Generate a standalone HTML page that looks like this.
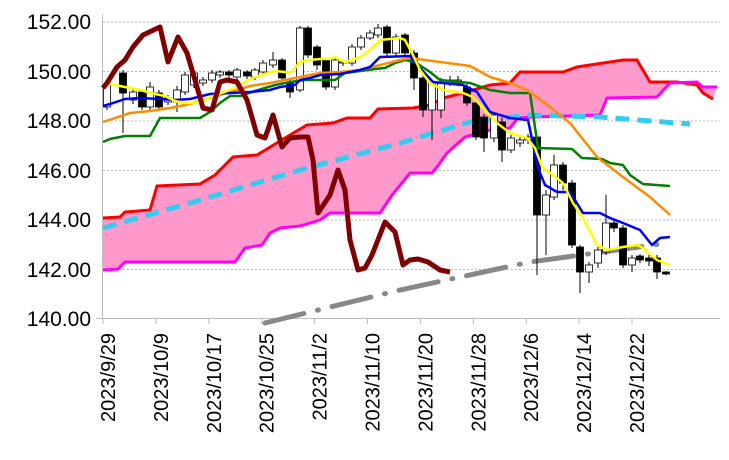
<!DOCTYPE html>
<html><head><meta charset="utf-8"><style>
html,body{margin:0;padding:0;background:#fff;}
svg{display:block;}
text{font-family:"Liberation Sans",sans-serif;fill:#000;}
</style></head><body>
<svg id="s" width="729" height="460" viewBox="0 0 729 460" xmlns="http://www.w3.org/2000/svg">
<g stroke="#bbb" stroke-width="1" stroke-dasharray="2,2">
<line x1="103" y1="22" x2="720" y2="22"/><line x1="103" y1="71.5" x2="720" y2="71.5"/>
<line x1="103" y1="121" x2="720" y2="121"/><line x1="103" y1="170.5" x2="720" y2="170.5"/>
<line x1="103" y1="220" x2="720" y2="220"/><line x1="103" y1="269.5" x2="720" y2="269.5"/>
</g>
<line x1="102.5" y1="15" x2="102.5" y2="319" stroke="#bbb"/>
<line x1="96" y1="318.5" x2="720" y2="318.5" stroke="#bbb"/>
<g font-size="21" text-anchor="end">
<text x="91" y="29">152.00</text><text x="91" y="79">150.00</text><text x="91" y="128">148.00</text>
<text x="91" y="178">146.00</text><text x="91" y="227">144.00</text><text x="91" y="277">142.00</text>
<text x="91" y="326">140.00</text>
</g>
<g font-size="20" text-anchor="end" id="xl"></g>
<polygon fill="#ff99cc" points="103,218 120,217 125,212 150,210 157,186 200,184 215,175 233,157 257,155 290,135 307,125 333,123 347,118 370,118 378,109 413,108 430,105 443,98 463,93 490,85 510,83 520,72 563,72 577,67 590,65 623,60 637,60 650,82 677,82 697,85 703,93 713,99 717,87 703,87 697,82 670,83 657,97 607,98 600,115 533,117 518,118 510,128 490,130 465,137 447,153 437,167 432,173 410,173 392,195 380,213 330,213 320,220 300,226 280,228 270,233 262,245 245,248 235,262 125,262 118,269 103,270"/>
<polyline fill="none" stroke="#ff0000" stroke-width="3" points="103,218 120,217 125,212 150,210 157,186 200,184 215,175 233,157 257,155 290,135 307,125 333,123 347,118 370,118 378,109 413,108 430,105 443,98 463,93 490,85 510,83 520,72 563,72 577,67 590,65 623,60 637,60 650,82 677,82 697,85 703,93 713,99"/>
<polyline fill="none" stroke="#ff00ff" stroke-width="3" points="103,270 118,269 125,262 235,262 245,248 262,245 270,233 280,228 300,226 320,220 330,213 380,213 392,195 410,173 432,173 437,167 447,153 465,137 490,130 510,128 518,118 533,117 600,115 607,98 657,97 670,83 697,82 703,87 717,87"/>
<polyline fill="none" stroke="#33ccee" stroke-width="5" stroke-dasharray="14,8" points="103,228 200,200 300,170 400,143 470,122 530,115 600,117 690,124"/>
<polyline fill="none" stroke="#888" stroke-width="5" stroke-linecap="round" stroke-dasharray="40,14,1,14" points="265,323 400,290 530,262 668,243"/>
<g id="cd"></g>
<polyline fill="none" stroke="#008000" stroke-width="2.5" points="103,142 110,139 125,136 150,136 160,118 200,118 210,112 220,103 230,96 240,96 255,91 265,88 275,85 290,82 305,80 335,80 345,73 360,71 375,69 385,68 395,63 405,60 415,62 430,72 440,80 470,83 490,90 510,93 530,93 538,148 572,149 582,158 602,159 610,163 623,165 630,175 643,184 670,186"/>
<polyline fill="none" stroke="#ff8c00" stroke-width="2.5" points="103,122 115,118 130,113 150,111 170,108 190,104 210,98 230,92 250,86 270,83 285,80 300,77 320,73 340,72 360,70 380,65 400,60 410,58 440,62 470,66 490,77 510,83 527,90 550,107 570,123 597,157 623,177 650,197 670,215"/>
<polyline fill="none" stroke="#0000ff" stroke-width="2.5" points="103,106 110,104 125,99 140,98 160,99 175,100 190,99 210,94 230,93 250,92 270,90 280,87 295,85 300,80 310,78 320,75 340,74 350,72 360,70 370,67 380,57 410,56 420,68 433,82 463,85 477,92 490,112 510,118 528,120 538,168 545,185 557,192 570,192 583,213 600,213 610,218 623,223 640,230 652,245 660,238 670,237"/>
<polyline fill="none" stroke="#ffff00" stroke-width="2.5" points="103,86 110,84 125,87 140,90 155,94 165,96 175,101 185,103 195,103 205,100 215,95 225,92 235,88 245,82 255,77 265,74 275,71 285,72 290,73 295,68 300,62 310,60 320,59 330,59 335,57 340,60 345,62 352,60 360,57 370,50 380,40 400,38 405,40 413,55 420,70 430,83 443,90 463,93 473,97 483,108 497,123 510,133 527,138 535,148 542,167 553,175 563,183 573,203 583,218 597,245 607,250 623,247 637,245 643,248 657,260 670,265"/>
<polyline fill="none" stroke="#800000" stroke-width="5" stroke-linejoin="round" points="103,88 107,83 117,67 125,60 133,47 143,35 160,27 168,62 178,37 187,53 195,80 203,108 212,110 220,82 227,80 237,82 247,100 257,135 265,138 273,115 282,147 290,138 300,137 308,137 313,160 318,213 330,195 338,170 345,190 350,240 358,270 365,268 372,255 385,222 395,232 403,265 410,260 418,259 428,262 440,270 450,272"/>
</svg>
<script>
var NS="http://www.w3.org/2000/svg",s=document.getElementById('s');
var xl=document.getElementById('xl');
var labs=["2023/9/29","2023/10/9","2023/10/17","2023/10/25","2023/11/2","2023/11/10","2023/11/20","2023/11/28","2023/12/6","2023/12/14","2023/12/22"];
labs.forEach(function(l,i){var x=108+i*52.9;var t=document.createElementNS(NS,'text');t.setAttribute('transform','translate('+(x+7)+',333) rotate(-90)');t.setAttribute('x',0);t.setAttribute('y',0);t.textContent=l;xl.appendChild(t);
var k=document.createElementNS(NS,'line');k.setAttribute('x1',x-5);k.setAttribute('x2',x-5);k.setAttribute('y1',318);k.setAttribute('y2',324);k.setAttribute('stroke','#bbb');s.appendChild(k);});
var C=[[107,85,107,80,110,0],[123,73,93,70,133,1],[133,92,100,88,104,0],[142,92,107,90,110,1],[150,87,107,82,110,0],[159,93,107,90,110,1],[168,98,102,95,105,0],[177,90,102,86,112,0],[185,75,92,72,95,0],[194,73,85,70,88,0],[203,80,83,77,86,0],[212,73,80,70,83,0],[220,72,75,70,78,0],[229,72,75,70,78,1],[237,70,77,68,80,0],[247,72,76,70,79,1],[255,70,77,68,80,0],[263,63,72,60,75,0],[273,60,65,52,68,0],[282,60,78,58,80,1],[290,82,92,80,98,1],[300,28,90,26,92,0],[308,28,55,26,58,1],[317,47,65,45,70,1],[326,60,87,58,90,1],[335,60,87,58,90,0],[343,62,63,60,66,0],[352,47,63,44,66,0],[361,38,47,35,50,0],[370,33,38,30,40,0],[378,28,35,24,38,0],[387,27,53,25,56,1],[396,37,53,34,56,0],[405,35,53,33,56,1],[414,53,78,50,90,1],[423,78,110,75,117,1],[432,83,110,80,140,0],[441,83,110,78,118,0],[450,80,83,76,86,0],[458,80,83,76,86,0],[467,87,103,84,106,1],[476,103,137,100,140,1],[484,117,138,114,152,1],[494,115,138,112,142,0],[502,122,150,118,162,1],[511,138,150,135,153,0],[520,140,143,137,147,0],[528,137,140,134,144,0],[537,137,215,134,275,1],[546,195,215,190,255,0],[554,165,197,155,200,0],[563,165,183,162,190,1],[572,183,245,180,248,1],[580,247,272,245,293,1],[589,265,272,262,283,0],[598,250,263,247,268,0],[606,223,252,195,255,0],[614,223,228,218,232,1],[623,228,265,225,268,1],[632,258,265,255,272,0],[640,256,260,254,263,1],[649,258,261,255,266,1],[657,258,272,255,279,1],[666,272,274,271,275,1]];
var g=document.getElementById('cd');
C.forEach(function(c){var w=document.createElementNS(NS,'line');w.setAttribute('x1',c[0]);w.setAttribute('x2',c[0]);w.setAttribute('y1',c[3]);w.setAttribute('y2',c[4]);w.setAttribute('stroke','#000');w.setAttribute('stroke-width',1);g.appendChild(w);
var r=document.createElementNS(NS,'rect');r.setAttribute('x',c[0]-3.5);r.setAttribute('y',c[1]);r.setAttribute('width',7);r.setAttribute('height',Math.max(1,c[2]-c[1]));r.setAttribute('fill',c[5]?'#000':'#fff');r.setAttribute('stroke','#000');r.setAttribute('stroke-width',0.8);g.appendChild(r);});
</script>
</body></html>
